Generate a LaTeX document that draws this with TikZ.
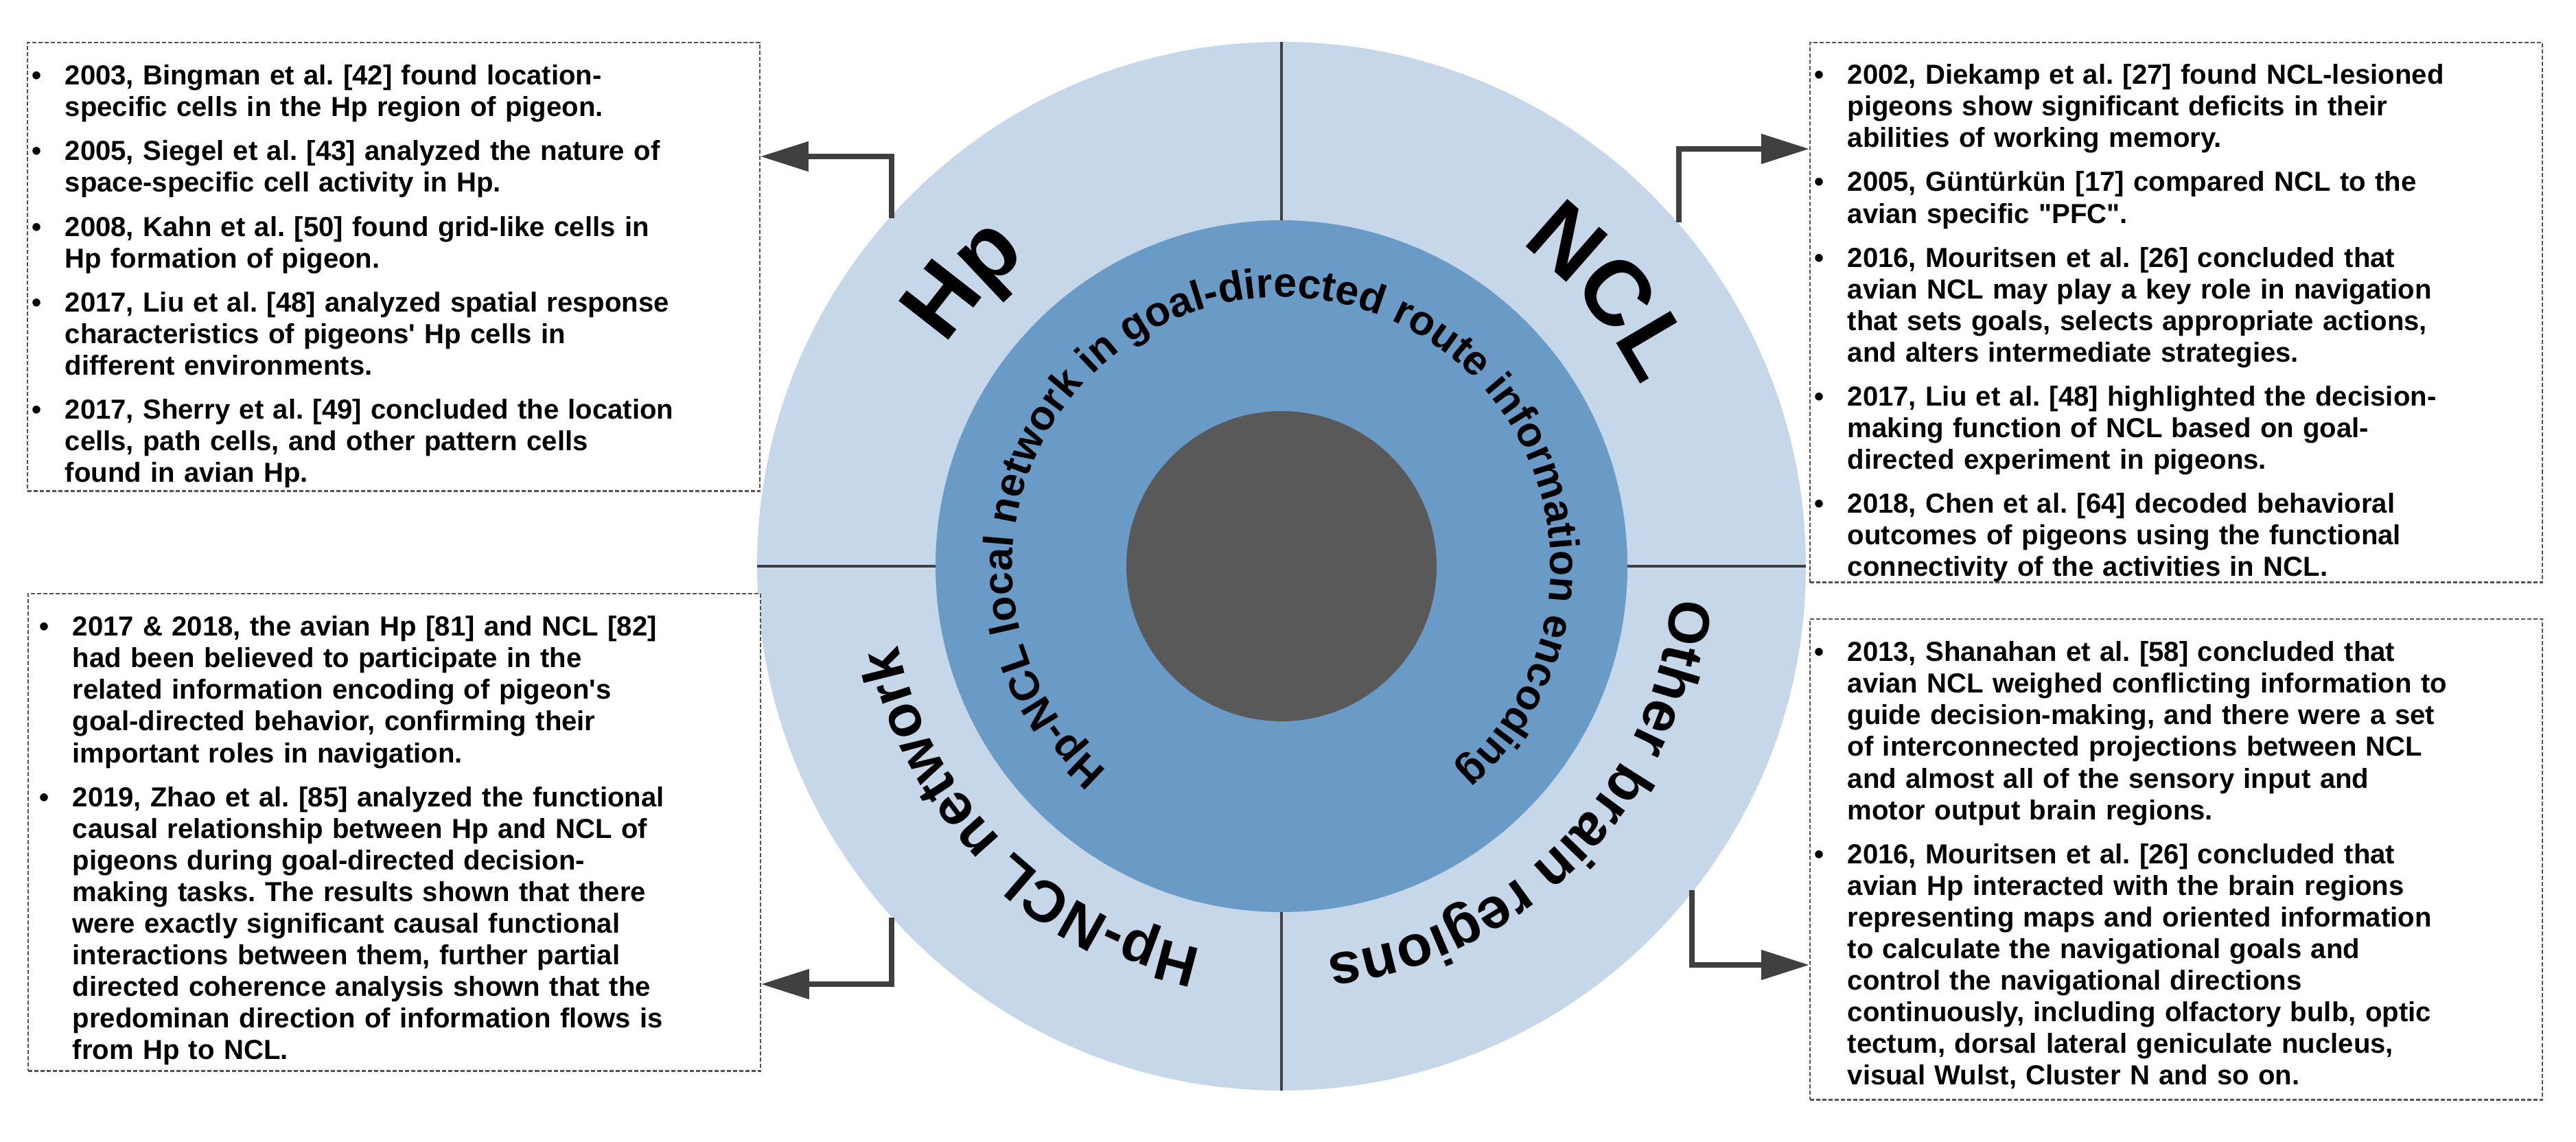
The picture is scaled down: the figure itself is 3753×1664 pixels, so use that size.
\documentclass[tikz,border=0pt]{standalone}
\usepackage{fontspec}
\setmainfont{Liberation Sans}[Ligatures=TeXOff]
\usepackage{enumitem}
\usetikzlibrary{arrows.meta,decorations.text,calc}
\definecolor{ringout}{HTML}{C5D7E8}
\definecolor{ringmid}{HTML}{6A9BC7}
\definecolor{core}{HTML}{595959}
\definecolor{dk}{HTML}{404040}
\newcommand{\boxfont}{\fontsize{11.4}{13.1}\selectfont\bfseries\frenchspacing}
\newlist{facts}{itemize}{1}
\setlist[facts]{label=\textbullet,leftmargin=0.55cm,labelsep=0.34cm,itemsep=0.18cm,parsep=0pt,topsep=0pt,partopsep=0pt}
\begin{document}
\begin{tikzpicture}[x=0.01cm,y=0.01cm,
  box/.style={draw=dk!90,line width=0.022cm,dash pattern=on 0.06cm off 0.03cm,inner sep=0,fill=white},
  txt/.style={anchor=north west,inner sep=0,text width=10.3cm,align=left,font=\boxfont},
  arr/.style={draw=dk,line width=0.08cm,-{Triangle[length=0.7cm,width=0.42cm]}},
  divider/.style={draw=dk,line width=0.04cm},
  big/.style={decorate,decoration={text along path,text align=center,text={|\fontsize{38}{38}\selectfont\bfseries|#1}}},
  mid/.style={decorate,decoration={text along path,text align=center,text={|\fontsize{24}{24}\selectfont\bfseries|#1}}},
  inner/.style={decorate,decoration={text along path,text align=center,text={|\fontsize{17.3}{17}\selectfont\bfseries|#1}}}
]
\useasboundingbox (0,0) rectangle (3753,1664);
\coordinate (C) at (1867,839);
\fill[ringout] (C) circle[radius=764];
\fill[ringmid] (C) circle[radius=504];
\fill[core] (C) circle[radius=226];
% dividers
\draw[divider] (1867,1343) -- (1867,1603);
\draw[divider] (1867,335) -- (1867,75);
\draw[divider] (1103,839) -- (1363,839);
\draw[divider] (2371,839) -- (2631,839);
% curved labels
\path[big={Hp}] ($(C)+(170:585)$) arc[start angle=170,end angle=106,radius=585];
\path[big={NCL}] ($(C)+(72:585)$) arc[start angle=72,end angle=8,radius=585];
\path[mid={Other brain regions}] ($(C)+(-2:570)$) arc[start angle=-2,end angle=-86,radius=570];
\path[mid={Hp-NCL network}] ($(C)+(267:570)$) arc[start angle=267,end angle=183,radius=570];
\path[inner={Hp-NCL local network in goal-directed route information encoding}] ($(C)+(240:392)$) arc[start angle=240,end angle=-60,radius=392];
% boxes
\node[box,minimum width=10.66cm,minimum height=6.53cm,anchor=north west] (b1) at (39,1603) {};
\node[box,minimum width=10.66cm,minimum height=7.86cm,anchor=north west] (b2) at (2636,1603) {};
\node[box,minimum width=10.66cm,minimum height=6.95cm,anchor=north west] (b3) at (40,800) {};
\node[box,minimum width=10.66cm,minimum height=7.00cm,anchor=north west] (b4) at (2636,763) {};
\node[txt] (t1) at ([yshift=-0.16cm]b1.north west) {\begin{facts}
\item 2003, Bingman et al. [42] found location-\\specific cells in the Hp region of pigeon.
\item 2005, Siegel et al. [43] analyzed the nature of\\space-specific cell activity in Hp.
\item 2008, Kahn et al. [50] found grid-like cells in\\Hp formation of pigeon.
\item 2017, Liu et al. [48] analyzed spatial response\\characteristics of pigeons' Hp cells in\\different environments.
\item 2017, Sherry et al. [49] concluded the location\\cells, path cells, and other pattern cells\\found in avian Hp.
\end{facts}};
\node[txt] (t2) at ([yshift=-0.15cm]b2.north west) {\begin{facts}
\item 2002, Diekamp et al. [27] found NCL-lesioned\\pigeons show significant deficits in their\\abilities of working memory.
\item 2005, Güntürkün [17] compared NCL to the\\avian specific "PFC".
\item 2016, Mouritsen et al. [26] concluded that\\avian NCL may play a key role in navigation\\that sets goals, selects appropriate actions,\\and alters intermediate strategies.
\item 2017, Liu et al. [48] highlighted the decision-\\making function of NCL based on goal-\\directed experiment in pigeons.
\item 2018, Chen et al. [64] decoded behavioral\\outcomes of pigeons using the functional\\connectivity of the activities in NCL.
\end{facts}};
\node[txt] (t3) at ([yshift=-0.16cm,xshift=0.1cm]b3.north west) {\begin{facts}
\item 2017 \& 2018, the avian Hp [81] and NCL [82]\\had been believed to participate in the\\related information encoding of pigeon's\\goal-directed behavior, confirming their\\important roles in navigation.
\item 2019, Zhao et al. [85] analyzed the functional\\causal relationship between Hp and NCL of\\pigeons during goal-directed decision-\\making tasks. The results shown that there\\were exactly significant causal functional\\interactions between them, further partial\\directed coherence analysis shown that the\\predominan direction of information flows is\\from Hp to NCL.
\end{facts}};
\node[txt] (t4) at ([yshift=-0.16cm]b4.north west) {\begin{facts}
\item 2013, Shanahan et al. [58] concluded that\\avian NCL weighed conflicting information to\\guide decision-making, and there were a set\\of interconnected projections between NCL\\and almost all of the sensory input and\\motor output brain regions.
\item 2016, Mouritsen et al. [26] concluded that\\avian Hp interacted with the brain regions\\representing maps and oriented information\\to calculate the navigational goals and\\control the navigational directions\\continuously, including olfactory bulb, optic\\tectum, dorsal lateral geniculate nucleus,\\visual Wulst, Cluster N and so on.
\end{facts}};
% arrows
\coordinate (s1) at (1299,1346); \coordinate (e1) at (b1.east |- 0,1436);
\coordinate (s2) at (2446,1340); \coordinate (e2) at (b2.west |- 0,1447);
\coordinate (s3) at (1299,327);  \coordinate (e3) at (b3.east |- 0,230);
\coordinate (s4) at (2465,367);  \coordinate (e4) at (b4.west |- 0,258);
\draw[arr] (s1) |- (e1);
\draw[arr] (s2) |- (e2);
\draw[arr] (s3) |- (e3);
\draw[arr] (s4) |- (e4);
\end{tikzpicture}
\end{document}
